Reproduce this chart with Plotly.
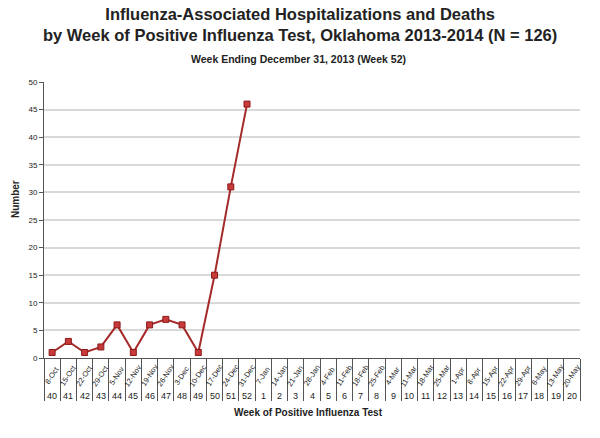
import plotly.graph_objects as go

# semanas y fechas (fin de semana, martes)
weeks = ["40", "41", "42", "43", "44", "45", "46", "47", "48", "49", "50", "51", "52",
         "1", "2", "3", "4", "5", "6", "7", "8", "9", "10", "11", "12", "13", "14",
         "15", "16", "17", "18", "19", "20"]
dates = ["8-Oct", "15-Oct", "22-Oct", "29-Oct", "5-Nov", "12-Nov", "19-Nov", "26-Nov",
         "3-Dec", "10-Dec", "17-Dec", "24-Dec", "31-Dec", "7-Jan", "14-Jan", "21-Jan",
         "28-Jan", "4-Feb", "11-Feb", "18-Feb", "25-Feb", "4-Mar", "11-Mar", "18-Mar",
         "25-Mar", "1-Apr", "8-Apr", "15-Apr", "22-Apr", "29-Apr", "6-May", "13-May", "20-May"]
# casos hasta la semana 52
counts = [1, 3, 1, 2, 6, 1, 6, 7, 6, 1, 15, 31, 46]
y_ticks = [0, 5, 10, 15, 20, 25, 30, 35, 40, 45, 50]

FONT = "Liberation Sans, Arial, sans-serif"

fig = go.Figure()
fig.add_trace(go.Scatter(
    x=weeks[:len(counts)],
    y=counts,
    mode="lines+markers",
    line=dict(color="#a52a2a", width=2),
    marker=dict(symbol="square", size=6, color="#c83a3a",
                line=dict(color="#8b1a1a", width=1)),
    showlegend=False,
))

# Etiquetas del eje x (fecha + semana); en eje categórico x = índice
annotations = []
for i, (w, d) in enumerate(zip(weeks, dates)):
    annotations.append(dict(x=i, xref="x", y=-0.065, yref="paper", text=d,
                            showarrow=False, textangle=-57,
                            font=dict(family=FONT, size=7.5, color="#222"),
                            xanchor="center", yanchor="middle"))
    annotations.append(dict(x=i, xref="x", y=-0.136, yref="paper", text=w,
                            showarrow=False,
                            font=dict(family=FONT, size=9, color="#222"),
                            xanchor="center", yanchor="middle"))

annotations.append(dict(x=0.494, xref="paper", y=-0.196, yref="paper",
                        text="<b>Week of Positive Influenza Test</b>", showarrow=False,
                        font=dict(family=FONT, size=10, color="#222"),
                        xanchor="center", yanchor="middle"))
annotations.append(dict(x=-0.054, xref="paper", y=0.576, yref="paper",
                        text="<b>Number</b>", showarrow=False, textangle=-90,
                        font=dict(family=FONT, size=10, color="#222"),
                        xanchor="center", yanchor="middle"))
annotations.append(dict(x=0.474, xref="paper", y=1.084, yref="paper",
                        text="<b>Week Ending December 31, 2013 (Week 52)</b>", showarrow=False,
                        font=dict(family=FONT, size=10.5, color="#222"),
                        xanchor="center", yanchor="middle"))
# Titulo
annotations.append(dict(x=0.478, xref="paper", y=1.208, yref="paper",
                        text="<b>Influenza-Associated Hospitalizations and Deaths<br>"
                             "by Week of Positive Influenza Test, Oklahoma 2013-2014 (N = 126)</b>",
                        showarrow=False,
                        font=dict(family=FONT, size=16.5, color="#222"),
                        xanchor="center", yanchor="middle"))

# la página tiene 8 px de margen: figura de 592x430
fig.update_layout(
    width=592, height=430,
    margin=dict(l=36, r=20, t=74, b=80),
    paper_bgcolor="white", plot_bgcolor="white",
    annotations=annotations,
)

fig.update_xaxes(
    type="category", categoryorder="array", categoryarray=weeks,
    range=[-0.5, len(weeks) - 0.5],
    showticklabels=False, showgrid=False,
    ticks="outside", tickson="boundaries", ticklen=42, tickcolor="#555", tickwidth=1,
    showline=True, linecolor="#555", linewidth=1,
)
fig.update_yaxes(
    range=[0, 50], tickvals=y_ticks,
    showgrid=True, gridcolor="#d9d9d9", gridwidth=2, zeroline=False,
    showline=True, linecolor="#555", linewidth=1,
    ticks="outside", ticklen=4, tickcolor="#555",
    tickfont=dict(family=FONT, size=8, color="#222"),
)

fig.write_html("out.html")
